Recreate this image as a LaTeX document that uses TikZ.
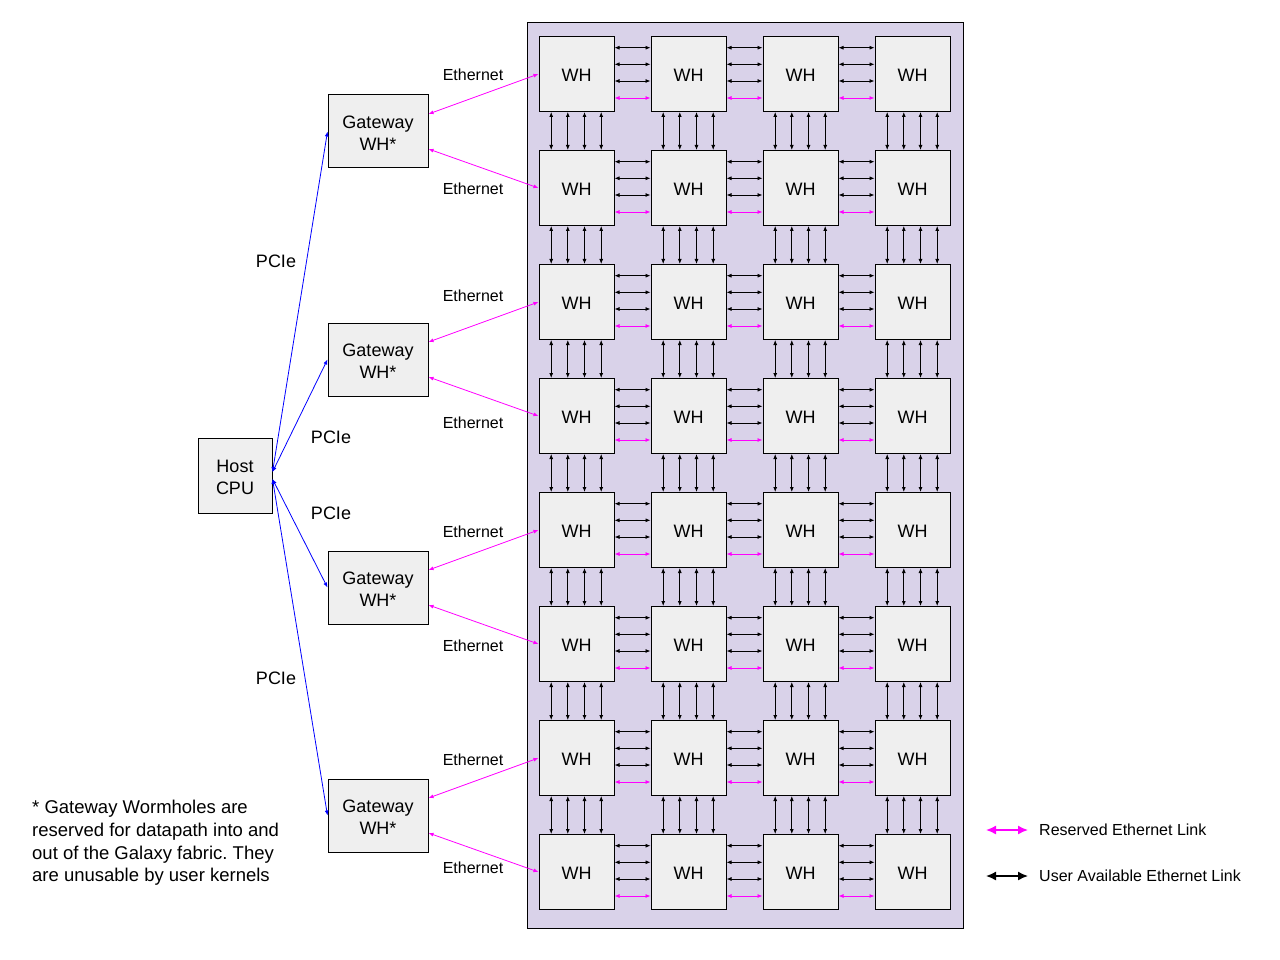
\documentclass[tikz,border=0pt]{standalone}
\usepackage{fontspec}
\setmainfont{Liberation Sans}
\usetikzlibrary{arrows.meta}
\usetikzlibrary{calc}
\frenchspacing

\definecolor{fabric}{HTML}{D9D2E9}
\definecolor{chip}{HTML}{EFEFEF}
\definecolor{ethpink}{HTML}{FF00FF}
\definecolor{pciblue}{HTML}{0000FF}

\begin{document}
\begin{tikzpicture}[x=1pt, y=-1pt,
    box/.style={draw, line width=1pt, fill=chip, align=center, inner sep=0pt, font=\fontsize{18}{22}\selectfont},
    whbox/.style={box, minimum width=75pt, minimum height=75pt, text height=15pt},
    gwbox/.style={box, minimum width=100pt, minimum height=73pt},
    link/.style={line width=0.8pt, {Latex[length=5pt,width=4pt]}-{Latex[length=5pt,width=4pt]}},
    resv/.style={link, ethpink},
    pcie/.style={link, pciblue},
    lbl/.style={inner sep=0pt, font=\fontsize{16}{19}\selectfont},
    biglbl/.style={inner sep=0pt, font=\fontsize{18}{22}\selectfont}]

    \useasboundingbox (0,0) rectangle (1280,960);

    % Galaxy fabric
    \draw[line width=1pt, fill=fabric] (527,23) rectangle (963,928);

    % 8x4 grid of Wormholes
    \foreach \r in {1,...,8} {
        \foreach \c in {1,...,4} {
            \node[whbox] (wh-\r-\c) at ({576.5+112*(\c-1)}, {74+114*(\r-1)}) {WH};
        }
    }

    % Links along a row
    \foreach \r in {1,...,8} {
        \foreach \c [count=\n from 2] in {1,2,3} {
            \foreach \o in {11.7,28.3,45}
                \draw[link] ([yshift=-\o pt]wh-\r-\c.north east) -- ([yshift=-\o pt]wh-\r-\n.north west);
            \draw[resv] ([yshift=-62pt]wh-\r-\c.north east) -- ([yshift=-62pt]wh-\r-\n.north west);
        }
    }

    % Links along a column
    \foreach \r [count=\n from 2] in {1,...,7} {
        \foreach \c in {1,...,4} {
            \foreach \o in {12.7,29.3,46,62.7}
                \draw[link] ([xshift=\o pt]wh-\r-\c.south west) -- ([xshift=\o pt]wh-\n-\c.north west);
        }
    }

    % Gateways and host
    \foreach \g/\y in {1/131.5, 2/359.5, 3/587.5, 4/815.5}
        \node[gwbox] (gw-\g) at (378,\y) {\rule{0pt}{16.5pt}Gateway\\WH*};
    \node[box, minimum width=74pt, minimum height=75pt] (host) at (235,475.5) {\rule{0pt}{16.5pt}Host\\CPU};

    % PCIe
    \draw[pcie] ([yshift=3.5pt]host.east) -- (gw-1.west);
    \draw[pcie] ([yshift=3.5pt]host.east) -- (gw-2.west);
    \draw[pcie] ([yshift=-3.5pt]host.east) -- (gw-3.west);
    \draw[pcie] ([yshift=-3.5pt]host.east) -- (gw-4.west);
    \foreach \i/\x/\y in {1/276/261, 2/331/437, 3/331/513, 4/276/678}
        \node[biglbl] (pcie-\i) at (\x,\y) {PCIe};

    % Ethernet from gateways into the fabric
    \foreach \g [evaluate=\g as \a using int(2*\g-1), evaluate=\g as \b using int(2*\g)] in {1,...,4} {
        \draw[resv] ([yshift=17.5pt]gw-\g.east) -- (wh-\a-1.west);
        \draw[resv] ([yshift=-17.5pt]gw-\g.east) -- (wh-\b-1.west);
    }
    \foreach \i/\y in {1/75, 2/189, 3/296, 4/423, 5/532, 6/646, 7/760, 8/868}
        \node[lbl] (eth-\i) at (473,\y) {Ethernet};

    % Footnote
    \node[anchor=west, align=left, inner sep=0pt, font=\fontsize{18.5}{22.7}\selectfont] (note) at (32,843)
        {* Gateway Wormholes are\\reserved for datapath into and\\out of the Galaxy fabric. They\\are unusable by user kernels};

    % Legend
    \node[lbl, anchor=west] (leg-resv) at (1039,830) {Reserved Ethernet Link};
    \node[lbl, anchor=west] (leg-user) at (1039,876) {User Available Ethernet Link};
    \coordinate (ra) at (986,830);
    \coordinate (rb) at (1028,830);
    \coordinate (ua) at (986,876);
    \coordinate (ub) at (1028,876);
    \draw[ethpink, line width=1.5pt, {Latex[length=10pt,width=9pt]}-{Latex[length=10pt,width=9pt]}] (ra) -- (rb);
    \draw[black, line width=1.5pt, {Latex[length=10pt,width=9pt]}-{Latex[length=10pt,width=9pt]}] (ua) -- (ub);
\end{tikzpicture}
\end{document}
